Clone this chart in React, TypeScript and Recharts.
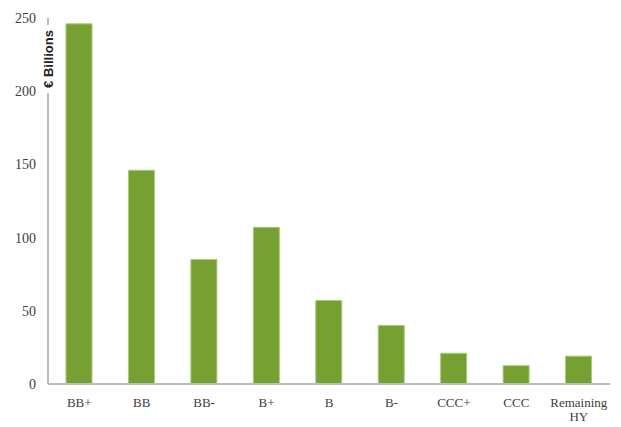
import React from 'react';
import { BarChart, Bar, XAxis, YAxis } from 'recharts';

const categories = ['BB+', 'BB', 'BB-', 'B+', 'B', 'B-', 'CCC+', 'CCC', 'Remaining HY'];
const amounts = [246, 146, 85, 107, 57, 40, 21, 12.5, 19];
const yTicks = [0, 50, 100, 150, 200, 250];

const data = categories.map((c, i) => ({ name: c, value: amounts[i] }));

const SERIF = '"Liberation Serif", "Times New Roman", serif';
const TICK_COLOR = '#404040';
const AXIS_COLOR = '#bdbdbd';

const XTick = (props: any) => {
  const { x, y, payload } = props;
  const lines = String(payload.value).split(' ');
  return (
    <text x={x} y={y} textAnchor="middle" fill={TICK_COLOR} fontFamily={SERIF} fontSize={13}>
      {lines.map((l, i) => (
        <tspan key={i} x={x} dy={i === 0 ? 23 : 14}>
          {l}
        </tspan>
      ))}
    </text>
  );
};

const YTick = (props: any) => {
  const { x, y, payload } = props;
  return (
    <text x={x - 12} y={y} dy={5} textAnchor="end" fill={TICK_COLOR} fontFamily={SERIF} fontSize={14}>
      {payload.value}
    </text>
  );
};

const YLabel = (props: any) => {
  const vb = props.viewBox || {};
  const cx = (vb.x ?? 0) + (vb.width ?? 0);
  const cy = (vb.y ?? 0) + 41;
  return (
    <g>
      <rect x={cx - 9} y={cy - 34} width={18} height={68} fill="#ffffff" />
      <text
        x={cx}
        y={cy}
        transform={`rotate(-90, ${cx}, ${cy})`}
        textAnchor="middle"
        dominantBaseline="central"
        fontFamily='"Liberation Sans", Arial, sans-serif'
        fontWeight="bold"
        fontSize={13}
        fill="#222222"
      >
        € Billions
      </text>
    </g>
  );
};

export default function App() {
  return (
    <div style={{ position: 'absolute', left: 0, top: 0, width: 621, height: 427, background: '#fff' }}>
      <BarChart
        width={621}
        height={427}
        data={data}
        margin={{ top: 18, right: 11, left: 0, bottom: 3 }}
        barSize={26}
      >
        <XAxis
          dataKey="name"
          interval={0}
          tick={<XTick />}
          tickLine={false}
          tickSize={0}
          tickMargin={0}
          height={40}
          axisLine={{ stroke: AXIS_COLOR, strokeWidth: 2 }}
        />
        <YAxis
          width={48}
          domain={[0, 250]}
          ticks={yTicks}
          interval={0}
          tick={<YTick />}
          tickLine={false}
          tickSize={0}
          tickMargin={0}
          axisLine={{ stroke: AXIS_COLOR, strokeWidth: 2 }}
          label={<YLabel />}
        />
        <Bar dataKey="value" fill="#76a031" stroke="#a8cb78" strokeWidth={1} isAnimationActive={false} />
      </BarChart>
    </div>
  );
}
